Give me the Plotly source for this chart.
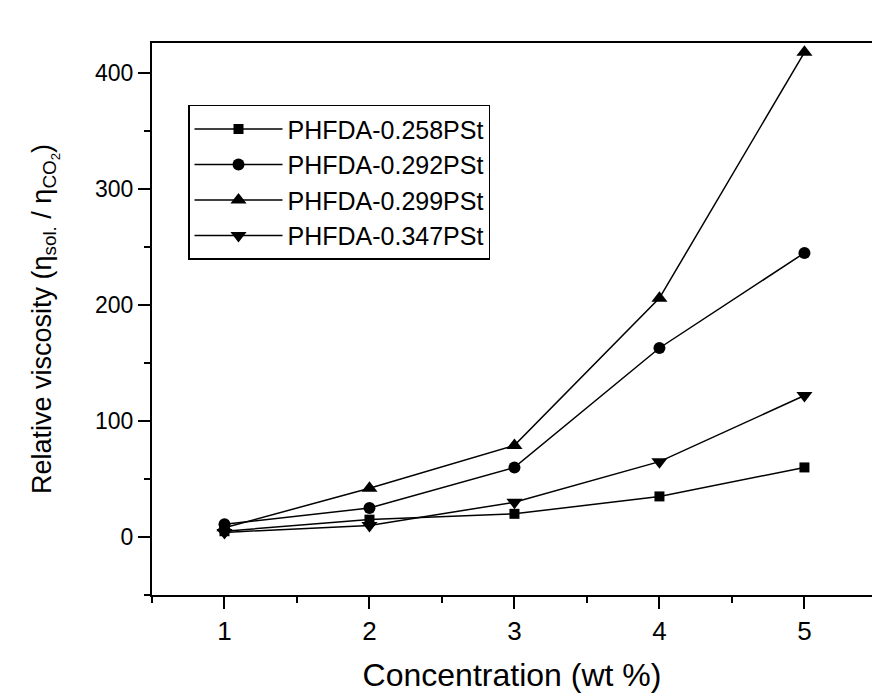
import plotly.graph_objects as go

conc = [1, 2, 3, 4, 5]
names = ["PHFDA-0.258PSt", "PHFDA-0.292PSt", "PHFDA-0.299PSt", "PHFDA-0.347PSt"]
v258 = [5, 15, 20, 35, 60]
v292 = [11, 25, 60, 163, 245]
v299 = [8, 42, 79, 206, 418]
v347 = [4, 10, 30, 65, 122]
series = [v258, v292, v299, v347]
symbols = ["square", "circle", "triangle-up", "triangle-down"]
sizes = [10, 12, 14, 14]

fig = go.Figure()
for i, (nm, vals) in enumerate(zip(names, series)):
    fig.add_trace(go.Scatter(
        x=conc, y=vals, name=nm, mode="lines+markers",
        line=dict(color="black", width=1.5),
        marker=dict(symbol=symbols[i], size=sizes[i], color="black"),
        legendgroup=str(i),
    ))

font = "Liberation Sans, Arial, sans-serif"
fig.update_layout(
    width=872, height=694,
    margin=dict(l=152, r=0, t=43, b=99),
    plot_bgcolor="white", paper_bgcolor="white",
    font=dict(family=font, color="black"),
    showlegend=True,
    legend=dict(
        x=0.05, y=0.888, xanchor="left", yanchor="top",
        bordercolor="black", borderwidth=1.5, bgcolor="white",
        font=dict(size=25, family=font, color="black"),
        traceorder="grouped", tracegroupgap=0, itemwidth=88,
    ),
    xaxis=dict(
        range=[0.5, 5.466], showline=True, linecolor="black", linewidth=2,
        mirror=True, ticks="outside", ticklen=12, tickwidth=1.5, tickcolor="black",
        tickvals=conc, ticktext=[str(c) for c in conc],
        tickfont=dict(size=26), showgrid=False, zeroline=False,
        minor=dict(dtick=0.5, ticks="outside", ticklen=6, tickwidth=1.5, tickcolor="black"),
        title=dict(text="Concentration (wt %)", font=dict(size=32), standoff=18),
    ),
    yaxis=dict(
        range=[-50, 426], showline=True, linecolor="black", linewidth=2,
        ticks="outside", ticklen=12, tickwidth=1.5, tickcolor="black",
        tickvals=[0, 100, 200, 300, 400],
        tickfont=dict(size=23), showgrid=False, zeroline=False,
        minor=dict(dtick=50, ticks="outside", ticklen=6, tickwidth=1.5, tickcolor="black"),
        title=dict(text="Relative viscosity (η<sub>sol.</sub> / η<sub>CO<sub>2</sub></sub>)",
                   font=dict(size=27), standoff=36),
    ),
)
fig.write_html("out.html")
